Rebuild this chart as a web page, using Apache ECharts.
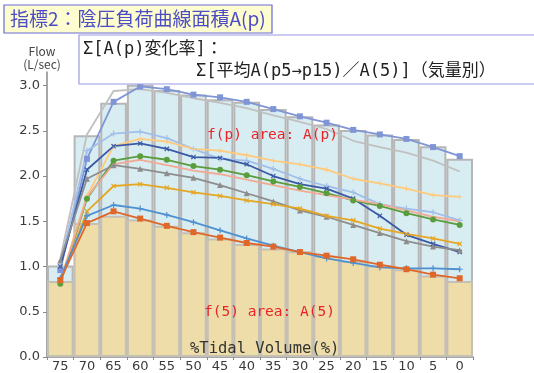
<!DOCTYPE html>
<html>
<head>
<meta charset="utf-8">
<script src="https://cdn.jsdelivr.net/npm/echarts@6/dist/echarts.min.js"></script>
<style>
  html, body { margin: 0; padding: 0; background: #ffffff; }
  #chart { width: 534px; height: 373px; }
</style>
</head>
<body>
<div id="chart"></div>
<script>
// %Tidal Volume categories (expiration: 75% → 0%)
var categories = ['75', '70', '65', '60', '55', '50', '45', '40', '35', '30', '25', '20', '15', '10', '5', '0'];

// Column areas: f(p) area A(p) and f(5) area A(5)
var areaP = [1.01, 2.45, 2.81, 3.01, 2.95, 2.90, 2.85, 2.82, 2.74, 2.66, 2.57, 2.51, 2.46, 2.41, 2.33, 2.19];
var area5 = [0.84, 1.48, 1.56, 1.52, 1.45, 1.38, 1.31, 1.25, 1.20, 1.17, 1.12, 1.06, 1.01, 0.97, 0.90, 0.84];

// Flow curves (L/sec) under increasing negative pressure load
var flowPeriwinkle = [0.96, 2.19, 2.82, 2.99, 2.96, 2.90, 2.87, 2.82, 2.74, 2.66, 2.59, 2.51, 2.46, 2.41, 2.32, 2.22];
var flowLightGray  = [1.09, 2.46, 2.94, 2.96, 2.92, 2.86, 2.81, 2.75, 2.67, 2.60, 2.52, 2.39, 2.32, 2.26, 2.17, 2.05];
var flowLightBlue  = [1.03, 2.28, 2.47, 2.49, 2.42, 2.30, 2.19, 2.17, 2.08, 1.97, 1.89, 1.82, 1.69, 1.64, 1.60, 1.51];
var flowLightOrange= [0.85, 1.78, 2.33, 2.41, 2.38, 2.30, 2.28, 2.23, 2.17, 2.13, 2.07, 1.97, 1.92, 1.86, 1.79, 1.77];
var flowDarkBlue   = [1.00, 2.07, 2.33, 2.36, 2.30, 2.21, 2.20, 2.13, 2.00, 1.91, 1.86, 1.75, 1.56, 1.35, 1.25, 1.16];
var flowGreen      = [0.81, 1.75, 2.17, 2.22, 2.18, 2.11, 2.07, 2.01, 1.94, 1.88, 1.81, 1.73, 1.67, 1.59, 1.52, 1.46];
var flowSalmon     = [0.83, 1.77, 2.13, 2.18, 2.12, 2.06, 2.02, 1.96, 1.90, 1.84, 1.79, 1.74, 1.69, 1.62, 1.55, 1.50];
var flowDarkGray   = [1.07, 1.97, 2.12, 2.08, 2.03, 1.98, 1.90, 1.81, 1.72, 1.62, 1.55, 1.46, 1.37, 1.28, 1.22, 1.18];
var flowGold       = [0.84, 1.61, 1.89, 1.91, 1.87, 1.82, 1.78, 1.73, 1.69, 1.64, 1.56, 1.51, 1.42, 1.36, 1.31, 1.25];
var flowMedBlue    = [0.87, 1.56, 1.68, 1.64, 1.57, 1.49, 1.40, 1.31, 1.23, 1.16, 1.09, 1.04, 0.99, 0.98, 0.98, 0.97];
var flowOrange     = [0.85, 1.48, 1.61, 1.53, 1.45, 1.38, 1.32, 1.26, 1.22, 1.16, 1.12, 1.08, 1.02, 0.97, 0.91, 0.87];

// Y axis ticks
var yMin = 0, yMax = 3.15, yStep = 0.5;

var FONT = '"Noto Sans CJK JP", "Noto Sans", sans-serif';
// half-width Latin glyphs with CJK fallback
var WIDE = '"DejaVu Sans Mono", "Noto Sans CJK JP", sans-serif';
var PLUS = 'path://M4,0H6V4H10V6H6V10H4V6H0V4H4Z';

function lineSeries(data, color, symbol, size, rotate, width) {
  return {
    type: 'line',
    data: data,
    z: 5,
    symbol: symbol,
    symbolSize: size,
    symbolRotate: rotate || 0,
    showSymbol: symbol !== 'none',
    lineStyle: { color: color, width: width || 1.8 },
    itemStyle: { color: color, borderWidth: 0 },
    emphasis: { disabled: true },
    silent: true
  };
}

var chart = echarts.init(document.getElementById('chart'), null, { renderer: 'canvas' });

chart.setOption({
  animation: false,
  backgroundColor: '#ffffff',
  textStyle: { fontFamily: FONT },
  grid: { left: 47, right: 61, top: 72, bottom: 14, containLabel: false },
  xAxis: {
    type: 'category',
    data: categories,
    boundaryGap: true,
    axisLine: { lineStyle: { color: '#8a8a8a', width: 1.5 } },
    axisTick: { show: true, length: 3, lineStyle: { color: '#8a8a8a' } },
    axisLabel: { color: '#3a3a3a', fontSize: 13, margin: 3, fontFamily: '"DejaVu Sans", sans-serif', interval: 0 },
    splitLine: { show: false }
  },
  yAxis: {
    type: 'value',
    min: yMin,
    max: yMax,
    interval: yStep,
    axisLine: { show: true, lineStyle: { color: '#8a8a8a', width: 1.5 } },
    axisTick: { show: true, length: 4, lineStyle: { color: '#8a8a8a' } },
    axisLabel: {
      color: '#3a3a3a', fontSize: 13, margin: 7, fontFamily: '"DejaVu Sans", sans-serif',
      showMaxLabel: false,
      formatter: function (v) { return v.toFixed(1); }
    },
    splitLine: { show: false }
  },
  series: [
    {
      type: 'bar',
      data: areaP,
      barWidth: '100%',
      barGap: '-100%',
      z: 1,
      silent: true,
      itemStyle: { color: '#d8edf1', borderColor: '#b6b6b6', borderWidth: 2 }
    },
    {
      type: 'bar',
      data: area5,
      barWidth: '100%',
      barGap: '-100%',
      z: 2,
      silent: true,
      itemStyle: { color: '#eedda8', borderColor: '#c4c0b4', borderWidth: 2 }
    },
    lineSeries(flowLightGray, '#c0c0c0', 'none', 0),
    lineSeries(flowPeriwinkle, '#7f95d6', 'rect', 6),
    lineSeries(flowLightBlue, '#a2bfea', PLUS, 6),
    lineSeries(flowLightOrange, '#ffca7c', PLUS, 5),
    lineSeries(flowDarkBlue, '#3b5aa6', PLUS, 6, 45),
    lineSeries(flowGreen, '#5a9d3c', 'circle', 6),
    lineSeries(flowSalmon, '#f2aa94', 'none', 0),
    lineSeries(flowDarkGray, '#8d8d8d', 'triangle', 6),
    lineSeries(flowGold, '#e5a624', PLUS, 6, 45),
    lineSeries(flowMedBlue, '#4f90d0', PLUS, 6),
    lineSeries(flowOrange, '#e0672a', 'rect', 6)
  ],
  graphic: [
    // headline box
    {
      type: 'rect', z: 100,
      shape: { x: 4, y: 5, width: 268, height: 28 },
      style: { fill: '#fdfdcf', stroke: '#6b6bd6', lineWidth: 1.2 }
    },
    {
      type: 'text', z: 101, x: 10, y: 19,
      style: {
        text: '指標2：陰圧負荷曲線面積A(p)',
        font: '19px ' + FONT, fill: '#4c4cc6', verticalAlign: 'middle'
      }
    },
    // formula box
    {
      type: 'rect', z: 100,
      shape: { x: 79, y: 35, width: 470, height: 49 },
      style: { fill: '#ffffff', stroke: '#9a9ae4', lineWidth: 1.2 }
    },
    {
      type: 'text', z: 101, x: 83, y: 50,
      style: { text: 'Σ[A(p)変化率]：', font: '17px ' + WIDE, fill: '#222222', verticalAlign: 'middle' }
    },
    {
      type: 'text', z: 101, x: 196, y: 72,
      style: { text: 'Σ[平均A(p5→p15)／A(5)]（気量別）', font: '17px ' + WIDE, fill: '#222222', verticalAlign: 'middle' }
    },
    // axis name
    {
      type: 'text', z: 101, x: 42, y: 51,
      style: { text: 'Flow', font: '12px ' + FONT, fill: '#444444', align: 'center', verticalAlign: 'middle' }
    },
    {
      type: 'text', z: 101, x: 42, y: 64,
      style: { text: '(L/sec)', font: '12px ' + FONT, fill: '#444444', align: 'center', verticalAlign: 'middle' }
    },
    // area captions
    {
      type: 'text', z: 101, x: 207, y: 135,
      style: { text: 'f(p) area: A(p)', font: '14.5px ' + WIDE, fill: '#e8232a', verticalAlign: 'middle' }
    },
    {
      type: 'text', z: 101, x: 204, y: 312,
      style: { text: 'f(5) area: A(5)', font: '14.5px ' + WIDE, fill: '#e8232a', verticalAlign: 'middle' }
    },
    {
      type: 'text', z: 101, x: 190, y: 349,
      style: { text: '%Tidal Volume(%)', font: '15.5px ' + WIDE, fill: '#333333', verticalAlign: 'middle' }
    }
  ]
});
</script>
</body>
</html>
